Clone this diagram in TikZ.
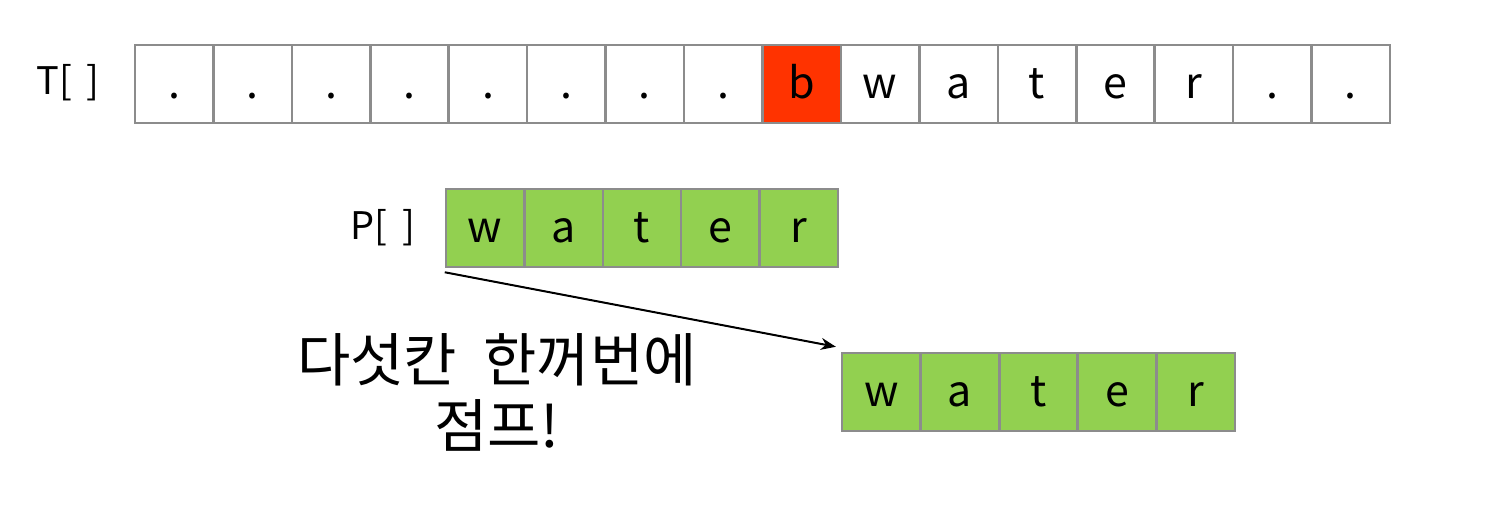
\documentclass[tikz,border=0pt]{standalone}
\usepackage{fontspec}
\setmainfont{Noto Sans CJK KR}
\usetikzlibrary{arrows.meta, positioning}
\definecolor{cellgray}{HTML}{8C8C8C}
\definecolor{hitred}{HTML}{FF3300}
\definecolor{patgreen}{HTML}{92D050}

\begin{document}
\begin{tikzpicture}[
    x=1pt, y=-1pt,
    every node/.style={font=\fontsize{38}{46}\selectfont},
    cell/.style={draw=cellgray, line width=2.5pt, fill=white, minimum width=78.4pt, minimum height=78pt,
      inner sep=0pt, text height=34pt, text depth=6pt, font=\fontsize{43}{48}\selectfont},
    hit/.style={cell, fill=hitred},
    pat/.style={cell, fill=patgreen},
    a/.style={-{Stealth[length=15pt, width=12pt]}, line width=2pt}
]
\useasboundingbox (0,0) rectangle (1498,531);
% text row
\node (tlabel) at (68,83) {T[\ \,]};
\foreach \c/\s [count=\i] in {{.}/cell,{.}/cell,{.}/cell,{.}/cell,{.}/cell,{.}/cell,{.}/cell,{.}/cell,
    b/hit,w/cell,a/cell,t/cell,e/cell,r/cell,{.}/cell,{.}/cell}
  \node[\s] (t\i) at ({135+(\i-0.5)*78.44},84) {\c};
% pattern row
\node (plabel) at (383,228) {P[\ \,]};
\foreach \c [count=\i] in {w,a,t,e,r}
  \node[pat] (p\i) at ({446+(\i-0.5)*78.4},228) {\c};
% shifted pattern
\foreach \c [count=\i] in {w,a,t,e,r}
  \node[pat] (q\i) at ({842+(\i-0.5)*78.6},392) {\c};
\draw[a] ([yshift=-4pt]p1.south west) -- ([xshift=-5pt, yshift=5pt]q1.north west);
\node[align=center, font=\fontsize{58}{66}\selectfont] (jump) at (497,392) {다섯칸\ \ 한꺼번에\\점프!};
\end{tikzpicture}
\end{document}
